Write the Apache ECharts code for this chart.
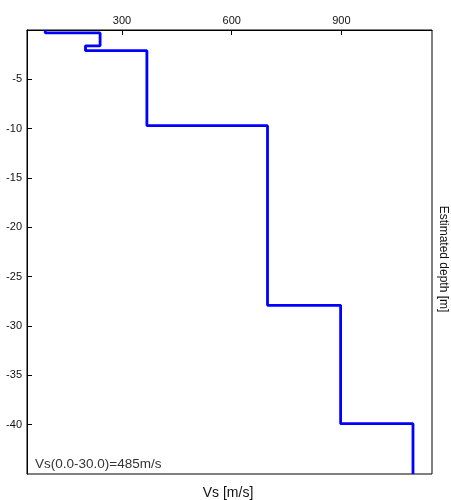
<!DOCTYPE html>
<html><head><meta charset="utf-8">
<script src="https://cdn.jsdelivr.net/npm/echarts@6/dist/echarts.min.js"></script>
<style>html,body{margin:0;padding:0;background:#fff}#c{width:451px;height:500px}</style>
</head><body><div id="c"></div>
<script>
// Layer velocities (m/s) and layer top/bottom depths (m)
const layerVs = [90, 240, 200, 368, 698, 898, 1096];
const layerTop = [0, 0.3, 1.6, 2.1, 9.7, 27.9, 39.9];
const layerBottom = [0.3, 1.6, 2.1, 9.7, 27.9, 39.9, 45];
const xTickLabels = [300, 600, 900];
const yTickLabels = [-5, -10, -15, -20, -25, -30, -35, -40];
const annotation = 'Vs(0.0-30.0)=485m/s';

const pts = [];
layerVs.forEach((v, i) => {
  pts.push([v, -layerTop[i]]);
  pts.push([v, -layerBottom[i]]);
});

const chart = echarts.init(document.getElementById('c'), null, {renderer: 'canvas'});
const font = 'Liberation Sans, Arial, sans-serif';
chart.setOption({
  animation: false,
  grid: {left: 27, right: 19, top: 30, bottom: 26, show: true, borderColor: '#000', borderWidth: 1, backgroundColor: '#fff'},
  xAxis: {
    type: 'value', position: 'top', min: 40, max: 1148,
    axisLine: {show: true, lineStyle: {color: '#000', width: 1}},
    axisTick: {show: true, inside: true, length: 5, customValues: xTickLabels, lineStyle: {color: '#000'}},
    axisLabel: {customValues: xTickLabels, color: '#111', fontFamily: font, fontSize: 11, margin: 4},
    splitLine: {show: false}
  },
  yAxis: {
    type: 'value', min: -45, max: 0,
    axisLine: {show: true, lineStyle: {color: '#000', width: 1}},
    axisTick: {show: true, inside: true, length: 5, customValues: yTickLabels, lineStyle: {color: '#000'}},
    axisLabel: {customValues: yTickLabels, color: '#111', fontFamily: font, fontSize: 11, margin: 5},
    splitLine: {show: false}
  },
  series: [{
    type: 'line', data: pts, showSymbol: false, symbol: 'none',
    lineStyle: {color: '#0000ff', width: 2.8}, clip: true
  }],
  graphic: [
    {type: 'text', left: 35, top: 457, style: {text: annotation, font: '13.5px ' + font, fill: '#333'}},
    {type: 'text', x: 228, y: 493, style: {text: 'Vs [m/s]', font: '14px ' + font, fill: '#111', align: 'center', verticalAlign: 'middle'}},
    {type: 'text', x: 443, y: 259, rotation: -Math.PI / 2, style: {text: 'Estimated depth [m]', font: '12px ' + font, fill: '#111', align: 'center', verticalAlign: 'middle'}}
  ]
});
</script></body></html>
